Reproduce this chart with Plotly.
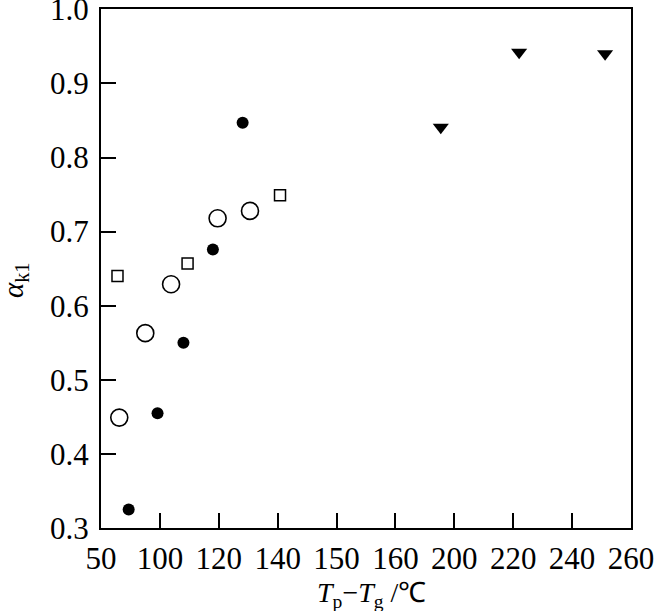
import numpy as np
import plotly.graph_objects as go

# Tick labels of the (non-uniform) x axis, equally spaced on the chart
x_tick_labels = [50, 100, 120, 140, 150, 160, 200, 220, 240, 260]
y_tick_vals = [0.3, 0.4, 0.5, 0.6, 0.7, 0.8, 0.9, 1.0]

# Series (T_p - T_g in degC, alpha_k1)
open_circle_x = [65.5, 87.6, 103.8, 119.6, 130.6]
open_circle_y = [0.449, 0.563, 0.629, 0.718, 0.728]

filled_circle_x = [73.5, 98.0, 108.0, 118.0, 128.1]
filled_circle_y = [0.325, 0.455, 0.550, 0.676, 0.847]

square_x = [64.0, 109.4, 140.4]
square_y = [0.640, 0.657, 0.749]

triangle_x = [190.8, 222.0, 251.2]
triangle_y = [0.841, 0.942, 0.940]

tick_pos = list(range(len(x_tick_labels)))


def to_axis(xs):
    # piecewise-linear scale defined by the axis tick labels
    return np.interp(xs, x_tick_labels, tick_pos)


fig = go.Figure()
fig.add_trace(go.Scatter(
    x=to_axis(open_circle_x), y=open_circle_y, mode="markers",
    marker=dict(symbol="circle-open", size=17, color="black", line=dict(width=1.6, color="black")),
    showlegend=False, cliponaxis=False))
fig.add_trace(go.Scatter(
    x=to_axis(filled_circle_x), y=filled_circle_y, mode="markers",
    marker=dict(symbol="circle", size=12, color="black"),
    showlegend=False, cliponaxis=False))
fig.add_trace(go.Scatter(
    x=to_axis(square_x), y=square_y, mode="markers",
    marker=dict(symbol="square-open", size=11, color="black", line=dict(width=1.5, color="black")),
    showlegend=False, cliponaxis=False))
fig.add_trace(go.Scatter(
    x=to_axis(triangle_x), y=triangle_y, mode="markers",
    marker=dict(symbol="triangle-down", size=14, color="black"),
    showlegend=False, cliponaxis=False))

font_family = "Liberation Serif, Times New Roman, serif"

fig.update_layout(
    width=657, height=611,
    margin=dict(l=101, r=26, t=9, b=83, autoexpand=False),
    paper_bgcolor="white", plot_bgcolor="white",
    font=dict(family=font_family, size=31, color="black"),
    xaxis=dict(
        range=[0, len(x_tick_labels) - 1],
        tickmode="array", tickvals=tick_pos, ticktext=[str(v) for v in x_tick_labels],
        ticks="inside", ticklen=15, tickwidth=1.5, tickcolor="black",
        showline=True, linecolor="black", linewidth=2, mirror=True,
        showgrid=False, zeroline=False, automargin=False,
        tickfont=dict(size=31), ticklabelstandoff=2, ticklabeloverflow="allow",
    ),
    yaxis=dict(
        range=[0.3, 1.0005],
        tickmode="array", tickvals=y_tick_vals, ticktext=[f"{v:.1f}" for v in y_tick_vals],
        ticks="inside", ticklen=15, tickwidth=1.5, tickcolor="black",
        showline=True, linecolor="black", linewidth=2, mirror=True,
        showgrid=False, zeroline=False, automargin=False,
        tickfont=dict(size=31), ticklabelstandoff=4, ticklabeloverflow="allow",
    ),
    annotations=[
        dict(text="<i>T</i><sub>p</sub>\u2212<i>T</i><sub>g</sub> /\u2103",
             xref="paper", yref="paper", x=0.51, y=(611 - 594 - 83) / 519.0,
             xanchor="center", yanchor="middle", showarrow=False,
             font=dict(size=28)),
        dict(text="<i>\u03b1</i><sub>k1</sub>",
             xref="paper", yref="paper", x=(15 - 101) / 530.0, y=(528 - 280) / 519.0,
             xanchor="center", yanchor="middle", showarrow=False, textangle=-90,
             font=dict(size=29)),
    ],
)

fig.write_html("out.html", config={"displayModeBar": False})

# remove the default page margin so the figure fills the window
with open("out.html", "r", encoding="utf-8") as f:
    html = f.read()
html = html.replace("<body>", '<body style="margin:0;padding:0;overflow:hidden">', 1)
with open("out.html", "w", encoding="utf-8") as f:
    f.write(html)
